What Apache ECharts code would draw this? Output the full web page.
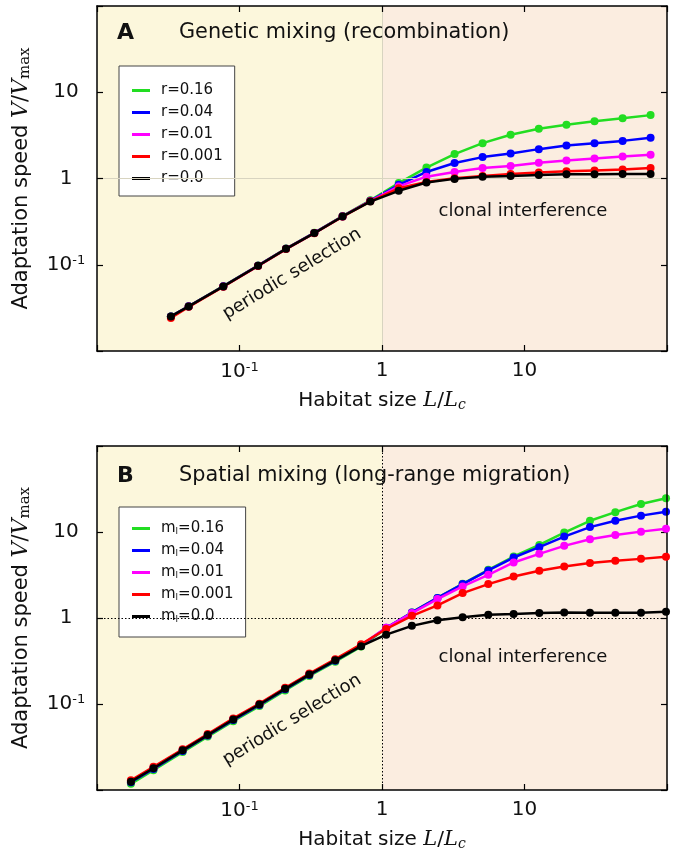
<!DOCTYPE html>
<html>
<head>
<meta charset="utf-8">
<script src="https://cdn.jsdelivr.net/npm/echarts@6/dist/echarts.min.js"></script>
<style>
  html, body { margin: 0; padding: 0; background: #fff; }
  #chart { width: 676px; height: 855px; }
</style>
</head>
<body>
<div id="chart"></div>
<script>
// habitat sizes L/Lc (panel A: recombination, panel B: long-range migration)
var xA = [0.033, 0.044, 0.077, 0.135, 0.212, 0.335, 0.529, 0.828, 1.31, 2.05, 3.23, 5.08, 7.99, 12.6, 19.7, 31.0, 48.8, 76.7];
var xB = [0.0173, 0.0249, 0.0399, 0.0598, 0.0904, 0.138, 0.209, 0.309, 0.470, 0.713, 1.07, 1.62, 2.45, 3.68, 5.57, 8.39, 12.7, 19.0, 28.8, 43.4, 65.7, 98.4];

// panel A, V/Vmax per recombination rate
var namesA = ['r=0.16', 'r=0.04', 'r=0.01', 'r=0.001', 'r=0.0'];
var vA_016 = [0.0252, 0.0330, 0.0565, 0.0980, 0.154, 0.235, 0.367, 0.560, 0.885, 1.34, 1.92, 2.57, 3.21, 3.77, 4.19, 4.62, 5.01, 5.43];
var vA_004 = [0.0252, 0.0330, 0.0563, 0.0976, 0.153, 0.234, 0.365, 0.552, 0.845, 1.19, 1.51, 1.77, 1.95, 2.19, 2.41, 2.57, 2.73, 2.96];
var vA_001 = [0.0250, 0.0328, 0.0560, 0.0972, 0.153, 0.233, 0.363, 0.548, 0.81, 1.05, 1.19, 1.32, 1.40, 1.52, 1.62, 1.71, 1.80, 1.88];
var vA_0001 = [0.0242, 0.0325, 0.0556, 0.0968, 0.152, 0.232, 0.362, 0.544, 0.77, 0.91, 1.01, 1.07, 1.13, 1.17, 1.21, 1.24, 1.27, 1.32];
var vA_0 = [0.0252, 0.0329, 0.0561, 0.0973, 0.153, 0.233, 0.363, 0.540, 0.72, 0.90, 0.99, 1.05, 1.07, 1.10, 1.12, 1.12, 1.13, 1.13];

// panel B, V/Vmax per long-range migration rate
var namesB = ['ml=0.16', 'ml=0.04', 'ml=0.01', 'ml=0.001', 'ml=0.0'];
var vB_016 = [0.0118, 0.0170, 0.0276, 0.0418, 0.063, 0.0945, 0.144, 0.212, 0.310, 0.465, 0.76, 1.16, 1.71, 2.50, 3.63, 5.19, 7.08, 9.84, 13.5, 17.0, 21.2, 24.7];
var vB_004 = [0.0123, 0.0176, 0.0285, 0.0430, 0.065, 0.0975, 0.148, 0.218, 0.318, 0.475, 0.77, 1.16, 1.71, 2.48, 3.57, 5.05, 6.67, 8.85, 11.4, 13.5, 15.5, 17.2];
var vB_001 = [0.0127, 0.0182, 0.0293, 0.0440, 0.067, 0.0995, 0.152, 0.223, 0.327, 0.485, 0.77, 1.14, 1.66, 2.33, 3.18, 4.42, 5.57, 6.90, 8.25, 9.25, 10.1, 10.9];
var vB_0001 = [0.0130, 0.0186, 0.0298, 0.0448, 0.068, 0.101, 0.154, 0.226, 0.332, 0.495, 0.745, 1.06, 1.40, 1.95, 2.48, 3.04, 3.54, 3.97, 4.35, 4.62, 4.87, 5.14];
var vB_0 = [0.0125, 0.0179, 0.0289, 0.0435, 0.066, 0.0986, 0.150, 0.220, 0.322, 0.470, 0.64, 0.81, 0.94, 1.02, 1.09, 1.11, 1.14, 1.16, 1.15, 1.15, 1.15, 1.18];

var colors = ['#22dd22', '#0000ff', '#ff00ff', '#ff0000', '#000000'];
var axisMin = 0.01, axisMax = 100;
var boundary = 1; // L = Lc, periodic selection | clonal interference

var chart = echarts.init(document.getElementById('chart'));
var FONT = 'DejaVu Sans';

function pairs(xs, ys) {
  return xs.map(function (x, i) { return [x, ys[i]]; });
}

function tickLabel(v) {
  var e = Math.round(Math.log10(v));
  if (e === -1) return '10{sup|-1}';
  if (e === 0) return '1';
  if (e === 1) return '10';
  return '';
}

var labelRich = { sup: { fontSize: 13, fontFamily: FONT, verticalAlign: 'top', padding: [0, 0, 9, 0] } };

function xAxes(gi) {
  return [{
    gridIndex: gi, type: 'log', logBase: 10, min: axisMin, max: axisMax, splitNumber: 4, position: 'bottom', z: 5,
    axisLine: { show: true, lineStyle: { color: '#000', width: 1.5 } },
    axisTick: { inside: true, length: 6, lineStyle: { color: '#000', width: 1.2 } },
    axisLabel: { formatter: tickLabel, color: '#111', fontSize: 20, fontFamily: FONT, margin: 10, rich: labelRich },
    splitLine: { show: false },
    name: 'Habitat size {i|L}/{i|L}{sub|c}', nameLocation: 'middle', nameGap: 39,
    nameTextStyle: {
      color: '#111', fontSize: 20, fontFamily: FONT, verticalAlign: 'top',
      rich: {
        i: { fontFamily: 'DejaVu Serif', fontStyle: 'italic', fontSize: 21 },
        sub: { fontFamily: 'DejaVu Serif', fontStyle: 'italic', fontSize: 14, verticalAlign: 'bottom', padding: [8, 0, 0, 0] }
      }
    }
  }, {
    gridIndex: gi, type: 'log', logBase: 10, min: axisMin, max: axisMax, splitNumber: 4, position: 'top', z: 5,
    axisLine: { show: true, lineStyle: { color: '#000', width: 1.5 } },
    axisTick: { inside: true, length: 6, lineStyle: { color: '#000', width: 1.2 } },
    axisLabel: { show: false }, splitLine: { show: false }
  }];
}

function yAxes(gi) {
  return [{
    gridIndex: gi, type: 'log', logBase: 10, min: axisMin, max: axisMax, splitNumber: 4, position: 'left', z: 5,
    axisLine: { show: true, lineStyle: { color: '#000', width: 1.5 } },
    axisTick: { inside: true, length: 6, lineStyle: { color: '#000', width: 1.2 } },
    axisLabel: { formatter: tickLabel, color: '#111', fontSize: 20, fontFamily: FONT, margin: 31, align: 'center', rich: labelRich },
    splitLine: { show: false },
    name: 'Adaptation speed {i|V}/{i|V}{sub|max}', nameLocation: 'middle', nameGap: 64,
    nameTextStyle: {
      color: '#111', fontSize: 21, fontFamily: FONT,
      rich: {
        i: { fontFamily: 'DejaVu Serif', fontStyle: 'italic', fontSize: 22 },
        sub: { fontFamily: 'DejaVu Serif', fontSize: 15, verticalAlign: 'bottom', padding: [8, 0, 0, 0] }
      }
    }
  }, {
    gridIndex: gi, type: 'log', logBase: 10, min: axisMin, max: axisMax, splitNumber: 4, position: 'right', z: 5,
    axisLine: { show: true, lineStyle: { color: '#000', width: 1.5 } },
    axisTick: { inside: true, length: 6, lineStyle: { color: '#000', width: 1.2 } },
    axisLabel: { show: false }, splitLine: { show: false }
  }];
}

function background(ai, lineStyle) {
  return [{
    type: 'line', xAxisIndex: ai, yAxisIndex: ai, data: [], z: 1, silent: true,
    markArea: {
      silent: true,
      data: [
        [{ xAxis: axisMin, itemStyle: { color: '#fcf7dc' } }, { xAxis: boundary }],
        [{ xAxis: boundary, itemStyle: { color: '#fbede0' } }, { xAxis: axisMax }]
      ]
    }
  }, {
    type: 'line', xAxisIndex: ai, yAxisIndex: ai, data: [], z: 2, silent: true,
    markLine: {
      silent: true, symbol: 'none', label: { show: false },
      lineStyle: lineStyle,
      data: [{ xAxis: boundary }, { yAxis: boundary }]
    }
  }];
}

function curves(ai, names, xs, ys) {
  return names.map(function (n, k) {
    return {
      name: n, type: 'line', xAxisIndex: ai, yAxisIndex: ai, z: 3 + k, clip: false,
      data: pairs(xs, ys[k]),
      symbol: 'circle', symbolSize: 8,
      lineStyle: { color: colors[k], width: 2.5 },
      itemStyle: { color: colors[k] },
      emphasis: { disabled: true }
    };
  });
}

function legendBox(names, top, pad, rich) {
  return {
    data: names, orient: 'vertical', left: 119, top: top, selectedMode: false,
    icon: 'rect', itemWidth: 18, itemHeight: 3, itemGap: 7,
    padding: pad,
    borderColor: '#444', borderWidth: 1, backgroundColor: '#fff',
    formatter: rich ? function (n) { return '{t|m}{s|l}{t|' + n.slice(2) + '}'; } : undefined,
    textStyle: {
      color: '#111', fontSize: 15, fontFamily: FONT, padding: [0, 0, 0, 6],
      rich: rich ? { t: { fontSize: 15, fontFamily: FONT }, s: { fontSize: 9, fontFamily: FONT, verticalAlign: 'bottom', padding: [6, 0, 0, 0] } } : undefined
    }
  };
}

function note(text, x, y, size, rot, bold) {
  return {
    type: 'text', x: x, y: y, rotation: rot || 0, z: 10,
    style: {
      text: text, fill: '#111', font: (bold ? 'bold ' : '') + size + 'px ' + FONT,
      align: rot ? 'center' : 'left', verticalAlign: 'middle'
    }
  };
}

var tilt = 31.4 * Math.PI / 180;

chart.setOption({
  animation: false,
  grid: [
    { left: 97, top: 6, width: 570, height: 345 },
    { left: 97, top: 446, width: 570, height: 344 }
  ],
  xAxis: xAxes(0).concat(xAxes(1)),
  yAxis: yAxes(0).concat(yAxes(1)),
  legend: [
    legendBox(namesA, 66, [17, 12, 10, 13], false),
    legendBox(namesB, 507, [14, 12, 13, 13], true)
  ],
  series: []
    .concat(background(0, { color: '#d8d4c0', width: 1, type: 'solid' }))
    .concat(background(2, { color: '#000', width: 1, type: [1.5, 2] }))
    .concat(curves(0, namesA, xA, [vA_016, vA_004, vA_001, vA_0001, vA_0]))
    .concat(curves(2, namesB, xB, [vB_016, vB_004, vB_001, vB_0001, vB_0])),
  graphic: [
    note('A', 117, 33, 22, 0, true),
    note('Genetic mixing (recombination)', 179, 33, 20.8),
    note('periodic selection', 292, 274, 18, tilt),
    { type: 'text', x: 523, y: 211, z: 10, style: { text: 'clonal interference', fill: '#111', font: '18px ' + FONT, align: 'center', verticalAlign: 'middle' } },
    note('B', 117, 476, 22, 0, true),
    note('Spatial mixing (long-range migration)', 179, 476, 20.8),
    note('periodic selection', 292, 720, 18, tilt),
    { type: 'text', x: 523, y: 657, z: 10, style: { text: 'clonal interference', fill: '#111', font: '18px ' + FONT, align: 'center', verticalAlign: 'middle' } }
  ]
});
</script>
</body>
</html>
